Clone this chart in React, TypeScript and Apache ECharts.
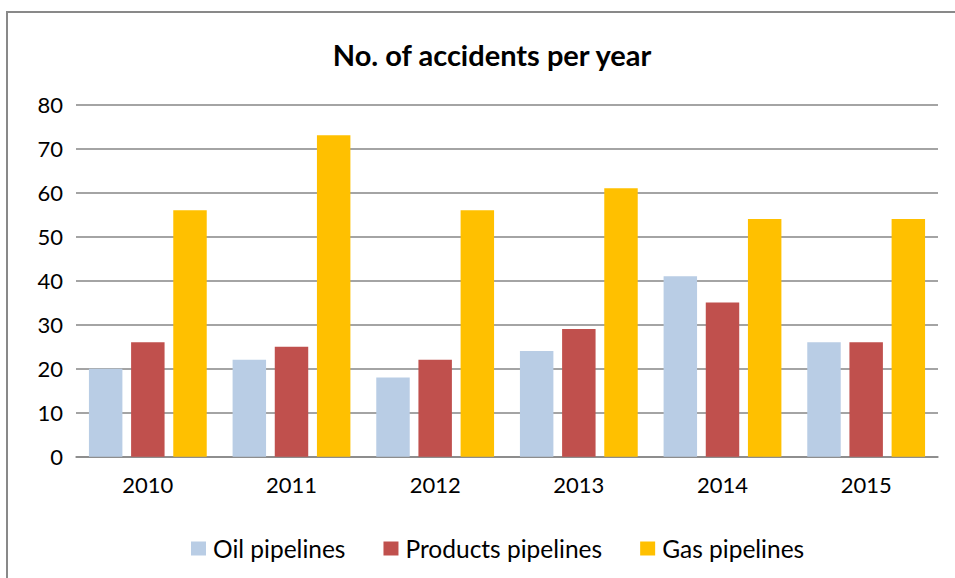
import React, { useEffect, useRef } from "react";
import * as echarts from "echarts";

const years = ["2010", "2011", "2012", "2013", "2014", "2015"];
const oilPipelines = [20, 22, 18, 24, 41, 26];
const productsPipelines = [26, 25, 22, 29, 35, 26];
const gasPipelines = [56, 73, 56, 61, 54, 54];
const seriesNames = ["Oil pipelines", "Products pipelines", "Gas pipelines"];
const colors = ["#B9CDE5", "#C0504D", "#FFC000"];

const FONT = "Lato, 'Open Sans', sans-serif";

export default function App() {
  const ref = useRef<HTMLDivElement>(null);
  useEffect(() => {
    if (!ref.current) return;
    const chart = echarts.init(ref.current, null, { renderer: "svg" });
    const values = [oilPipelines, productsPipelines, gasPipelines];
    chart.setOption({
      animation: false,
      backgroundColor: "#ffffff",
      title: {
        text: "No. of accidents per year",
        left: 487,
        top: 35,
        textAlign: "center",
        textStyle: { fontFamily: FONT, fontWeight: "bold", fontSize: 29, color: "#000" },
      },
      legend: {
        left: 186,
        top: 531,
        itemWidth: 15,
        itemHeight: 14,
        itemGap: 38,
        icon: "rect",
        textStyle: { fontFamily: FONT, fontSize: 24.5, color: "#000", padding: [0, 0, 0, 2] },
        data: seriesNames,
      },
      grid: { left: 76, right: 17, top: 104.5, bottom: 121.3 },
      xAxis: {
        type: "category",
        data: years,
        axisLine: { lineStyle: { color: "#868686", width: 1.5 } },
        axisTick: { show: false },
        axisLabel: { fontFamily: FONT, fontSize: 22, color: "#000", margin: 17 },
      },
      yAxis: {
        type: "value",
        min: 0,
        max: 80,
        interval: 10,
        axisLine: { show: false },
        axisTick: { show: false },
        axisLabel: { fontFamily: FONT, fontSize: 22, color: "#000", margin: 13 },
        splitLine: { lineStyle: { color: "#868686", width: 1.5 } },
      },
      series: seriesNames.map((name, i) => ({
        name,
        type: "bar",
        data: values[i],
        itemStyle: { color: colors[i] },
        barGap: "26%",
        barCategoryGap: "18%",
      })),
    });
    return () => chart.dispose();
  }, []);
  return (
    <div style={{ position: "absolute", left: 0, top: 0, width: 955, height: 578, overflow: "hidden", background: "#fff" }}>
      <div ref={ref} style={{ position: "absolute", left: 0, top: 0, width: 955, height: 578 }} />
      <div
        style={{
          position: "absolute",
          left: 6,
          top: 11,
          width: 1000,
          height: 1000,
          borderLeft: "2px solid #898989",
          borderTop: "2px solid #898989",
          pointerEvents: "none",
        }}
      />
    </div>
  );
}
